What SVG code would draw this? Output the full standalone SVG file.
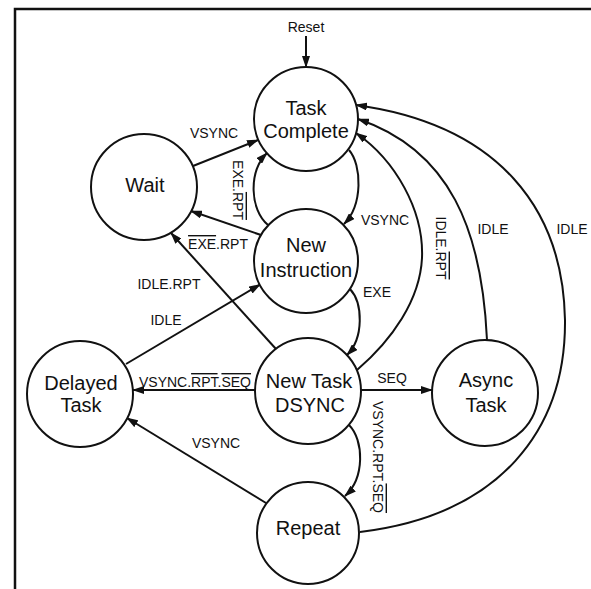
<svg xmlns="http://www.w3.org/2000/svg" width="591" height="589" viewBox="0 0 591 589">
  <style>
    .node circle { fill: #fff; stroke: #111; stroke-width: 2; }
    .node text { font-family: "Liberation Sans", Arial, sans-serif; font-size: 20px; fill: #111; text-anchor: middle; }
    .edges path { fill: none; stroke: #111; stroke-width: 2; }
    .lbl { font-family: "Liberation Sans", Arial, sans-serif; font-size: 14px; fill: #111; text-anchor: middle; }
    .ov { text-decoration: overline; }
  </style>
  <defs>
    <marker id="arrow" viewBox="0 0 12 8" refX="11" refY="4" markerWidth="12" markerHeight="8" markerUnits="userSpaceOnUse" orient="auto">
      <path d="M0,0 L12,4 L0,8 z" fill="#111"/>
    </marker>
  </defs>

  <rect width="591" height="589" fill="#fff"/>
  <!-- frame -->
  <path d="M15,589 L15,9 L591,9" fill="none" stroke="#111" stroke-width="2.5"/>

  <!-- connectors -->
  <g class="edges">
    <path id="e-reset" d="M306,36 L306,67" marker-end="url(#arrow)"/>
    <path id="e-wait-tc" d="M193,166 L258,140" marker-end="url(#arrow)"/>
    <path id="e-ni-tc" d="M268,225 C250,210 248,172 267,153" marker-end="url(#arrow)"/>
    <path id="e-tc-ni" d="M349,150 C362,165 363,205 344,224" marker-end="url(#arrow)"/>
    <path id="e-ni-wait" d="M261,235 L191,211" marker-end="url(#arrow)"/>
    <path id="e-ntd-wait" d="M276,349 L171,233" marker-end="url(#arrow)"/>
    <path id="e-del-ni" d="M126,364 L260,284.5" marker-end="url(#arrow)"/>
    <path id="e-ni-ntd" d="M350,289 C363,303 364,338 347,355" marker-end="url(#arrow)"/>
    <path id="e-ntd-tc" d="M357,370 C392,340 420,300 422,258 C424,210 395,160 356,133" marker-end="url(#arrow)"/>
    <path id="e-async-tc" d="M487,340 C482,230 450,150 358,119" marker-end="url(#arrow)"/>
    <path id="e-rep-tc" d="M360,532 C500,515 566,430 565,320 C563,210 500,125 356,105" marker-end="url(#arrow)"/>
    <path id="e-ntd-del" d="M255,390 L133,390" marker-end="url(#arrow)"/>
    <path id="e-ntd-async" d="M361,390 L432,390" marker-end="url(#arrow)"/>
    <path id="e-ntd-rep" d="M349,425 C364,440 365,478 345,496" marker-end="url(#arrow)"/>
    <path id="e-rep-del" d="M266,503 L127,418" marker-end="url(#arrow)"/>
  </g>

  <!-- connector labels -->
  <g id="labels">
    <text class="lbl" x="306" y="32">Reset</text>
    <text class="lbl" x="214" y="138">VSYNC</text>
    <text class="lbl" transform="translate(233,190) rotate(90)">EXE.<tspan class="ov">RPT</tspan></text>
    <text class="lbl" x="385" y="225">VSYNC</text>
    <text class="lbl" x="218" y="249"><tspan class="ov">EXE</tspan>.RPT</text>
    <text class="lbl" x="169" y="289">IDLE.RPT</text>
    <text class="lbl" x="166" y="325">IDLE</text>
    <text class="lbl" x="377" y="297">EXE</text>
    <text class="lbl" transform="translate(436,248) rotate(90)">IDLE.<tspan class="ov">RPT</tspan></text>
    <text class="lbl" x="493" y="234">IDLE</text>
    <text class="lbl" x="572" y="234">IDLE</text>
    <text class="lbl" x="195" y="387">VSYNC.<tspan class="ov">RPT</tspan>.<tspan class="ov">SEQ</tspan></text>
    <text class="lbl" x="392" y="383">SEQ</text>
    <text class="lbl" transform="translate(373,457) rotate(90)">VSYNC.RPT.<tspan class="ov">SEQ</tspan></text>
    <text class="lbl" x="216" y="448">VSYNC</text>
  </g>

  <!-- states -->
  <g id="task-complete" class="node">
    <circle cx="306" cy="119" r="52"/>
    <text x="306" y="115">Task</text>
    <text x="306" y="138">Complete</text>
  </g>
  <g id="wait" class="node">
    <circle cx="144" cy="187" r="53"/>
    <text x="145" y="192">Wait</text>
  </g>
  <g id="new-instruction" class="node">
    <circle cx="306" cy="261" r="52"/>
    <text x="306" y="252">New</text>
    <text x="306" y="277">Instruction</text>
  </g>
  <g id="delayed-task" class="node">
    <circle cx="80" cy="394" r="53"/>
    <text x="81" y="390">Delayed</text>
    <text x="81" y="412">Task</text>
  </g>
  <g id="new-task-dsync" class="node">
    <circle cx="308" cy="391" r="53"/>
    <text x="309" y="388">New Task</text>
    <text x="310" y="412">DSYNC</text>
  </g>
  <g id="async-task" class="node">
    <circle cx="485" cy="393" r="53"/>
    <text x="486" y="387">Async</text>
    <text x="486" y="412">Task</text>
  </g>
  <g id="repeat" class="node">
    <circle cx="308" cy="533" r="51"/>
    <text x="308" y="535">Repeat</text>
  </g>
</svg>
